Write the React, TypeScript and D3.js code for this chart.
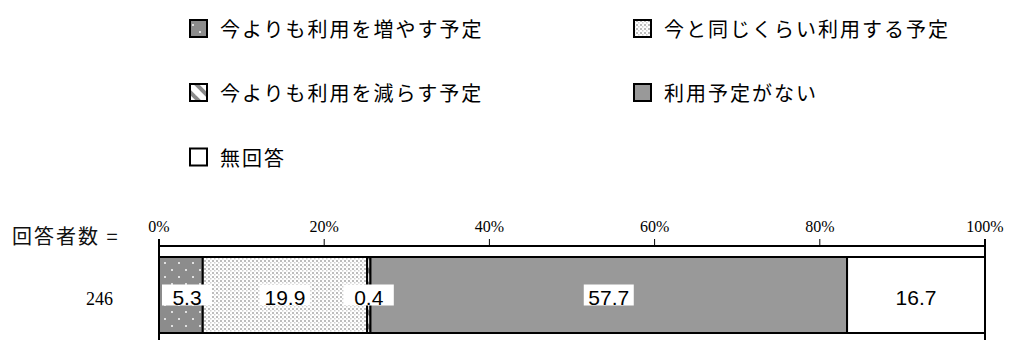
import React from "react";
import * as d3 from "d3";

const categories = [
  "今よりも利用を増やす予定",
  "今と同じくらい利用する予定",
  "今よりも利用を減らす予定",
  "利用予定がない",
  "無回答",
];
const values = [5.3, 19.9, 0.4, 57.7, 16.7];
const showBox = [true, true, true, true, false];
const tickValues = [0, 20, 40, 60, 80, 100];
const respondentLabel = "回答者数 =";
const respondentCount = "246";
const fills = ["url(#pIncrease)", "url(#pSame)", "url(#pDecrease)", "#999999", "#ffffff"];

const W = 1009;
const H = 340;

export default function App() {
  const x = d3.scaleLinear().domain([0, 100]).range([159, 985]);
  const barTop = 257;
  const barBottom = 333;
  const barMid = (barTop + barBottom) / 2;

  let acc = 0;
  const segs = values.map((v, i) => {
    const s = { i, v, x0: x(acc), x1: x(acc + v) };
    acc += v;
    return s;
  });

  const legendRows = [28.5, 92.5, 157];
  const legendCols = [190, 634];
  const legendPos = categories.map((c, i) => ({
    c,
    i,
    lx: legendCols[i % 2],
    ly: legendRows[Math.floor(i / 2)],
  }));

  return (
    <svg
      width={W}
      height={H}
      style={{ position: "absolute", left: 0, top: 0, background: "#fff" }}
    >
      <defs>
        <pattern id="pIncrease" width={14} height={14} patternUnits="userSpaceOnUse">
          <rect width={14} height={14} fill="#8c8c8c" />
          <rect x={3} y={3} width={2} height={2} fill="#e0e0e0" />
          <rect x={10} y={10} width={2} height={2} fill="#e0e0e0" />
        </pattern>
        <pattern id="pSame" width={4} height={4} patternUnits="userSpaceOnUse">
          <rect width={4} height={4} fill="#ffffff" />
          <rect x={0} y={0} width={2} height={2} fill="#bdbdbd" />
          <rect x={2} y={2} width={1.5} height={1.5} fill="#d0d0d0" />
        </pattern>
        <pattern id="pDecrease" width={14} height={14} patternUnits="userSpaceOnUse">
          <rect width={14} height={14} fill="#ffffff" />
          <path d="M-2,-2 L16,16" stroke="#8a8a8a" strokeWidth={4} />
          <path d="M-9,5 L5,19" stroke="#8a8a8a" strokeWidth={4} />
          <path d="M5,-9 L19,5" stroke="#8a8a8a" strokeWidth={4} />
        </pattern>
      </defs>

      {/* legend */}
      {legendPos.map((l) => (
        <g key={l.c}>
          <rect
            x={l.lx}
            y={l.ly - 8.5}
            width={17}
            height={17}
            fill={fills[l.i]}
            stroke="#000"
            strokeWidth={2}
          />
          <text
            x={l.lx + 30}
            y={l.ly}
            dominantBaseline="central"
            fontFamily="'Noto Sans CJK JP', sans-serif"
            fontSize={20}
            letterSpacing={2}
            fill="#000"
          >
            {l.c}
          </text>
        </g>
      ))}

      {/* respondents label */}
      <text
        x={12}
        y={235}
        dominantBaseline="central"
        fontFamily="'Noto Sans CJK JP', serif"
        fontSize={20}
        letterSpacing={2}
        fill="#111"
      >
        {respondentLabel}
      </text>

      {/* axis ticks labels */}
      {tickValues.map((t) => (
        <g key={t}>
          <text
            x={x(t)}
            y={232}
            textAnchor="middle"
            fontFamily="'Liberation Serif', 'Times New Roman', serif"
            fontSize={16}
            fill="#000"
          >
            {t + "%"}
          </text>
          <line x1={x(t)} x2={x(t)} y1={239} y2={246} stroke="#000" strokeWidth={1} />
        </g>
      ))}
      <line x1={x(0)} x2={x(100)} y1={246} y2={246} stroke="#000" strokeWidth={2} />
      <line x1={x(0)} x2={x(0)} y1={239} y2={H} stroke="#000" strokeWidth={2} />
      <line x1={x(100)} x2={x(100)} y1={239} y2={H} stroke="#000" strokeWidth={2} />

      {/* bar */}
      {segs.map((s) => (
        <rect
          key={s.i}
          x={s.x0}
          y={barTop}
          width={s.x1 - s.x0}
          height={barBottom - barTop}
          fill={fills[s.i]}
          stroke="#000"
          strokeWidth={2}
        />
      ))}

      {/* count label */}
      <text
        x={113}
        y={305}
        textAnchor="end"
        fontFamily="'Liberation Serif', 'Times New Roman', serif"
        fontSize={18}
        fill="#000"
      >
        {respondentCount}
      </text>

      {/* value labels */}
      {segs.map((s) => {
        const c = (s.x0 + s.x1) / 2;
        const bw = 50;
        const bx = Math.min(Math.max(c - bw / 2, x(0) + 3), x(100) - 3 - bw);
        return (
          <g key={"l" + s.i}>
            {showBox[s.i] && (
              <rect x={bx} y={barMid - 10.5} width={bw} height={21} fill="#fff" />
            )}
            <text
              x={bx + bw / 2}
              y={305}
              textAnchor="middle"
              fontFamily="'Liberation Sans', Arial, sans-serif"
              fontSize={21}
              fill="#000"
            >
              {s.v.toFixed(1)}
            </text>
          </g>
        );
      })}
    </svg>
  );
}
